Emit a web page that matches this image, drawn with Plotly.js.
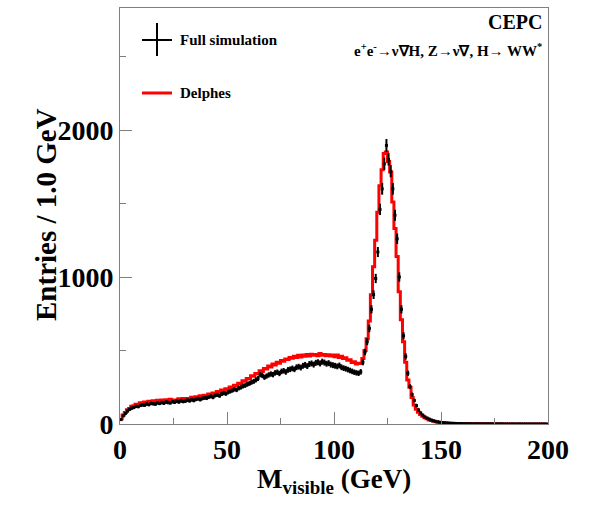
<!DOCTYPE html>
<html>
<head>
<meta charset="utf-8">
<script src="https://cdn.plot.ly/plotly-3.0.1.min.js"></script>
<style>html,body{margin:0;padding:0;background:#fff;}#plot{width:590px;height:505px;}</style>
</head>
<body>
<div id="plot"></div>
<script>
// Bin centres: 1 GeV bins from 0 to 200 GeV
var binLow = 0, binWidth = 1, nBins = 200;

// Delphes (red histogram), entries per 1 GeV bin
var delphes = [
  35, 62, 78, 97, 106, 120, 124, 135, 134, 144,
  143, 150, 147, 155, 146, 158, 150, 161, 154, 163,
  156, 165, 158, 168, 161, 164, 163, 171, 162, 173,
  169, 174, 172, 182, 173, 185, 181, 192, 183, 196,
  193, 204, 199, 211, 208, 221, 216, 231, 225, 239,
  236, 251, 248, 263, 261, 278, 275, 294, 291, 310,
  306, 328, 325, 344, 342, 362, 358, 378, 374, 394,
  388, 408, 402, 420, 414, 432, 427, 443, 439, 453,
  447, 461, 453, 467, 455, 469, 461, 473, 462, 475,
  467, 473, 465, 479, 468, 473, 464, 471, 463, 469,
  457, 469, 453, 461, 445, 451, 433, 437, 419, 423,
  409, 414, 412, 445, 500, 580, 700, 880, 1070, 1250,
  1440, 1620, 1730, 1840, 1850, 1785, 1715, 1510, 1330, 1140,
  900, 710, 560, 420, 300, 250, 180, 130, 100, 80,
  65, 52, 42, 35, 28, 23, 19, 15, 12, 10,
  8, 7, 6, 5, 4, 4, 3, 3, 2, 2,
  2, 2, 1, 1, 1, 1, 1, 1, 1, 1,
  1, 1, 1, 0, 1, 0, 0, 1, 0, 0,
  0, 0, 0, 0, 0, 0, 0, 0, 0, 0,
  0, 0, 0, 0, 0, 0, 0, 0, 0, 0
];

// Full simulation (black points), entries per 1 GeV bin
var fullSim = [
  30, 55, 72, 88, 100, 108, 112, 120, 118, 126,
  130, 128, 136, 132, 140, 138, 135, 144, 140, 146,
  142, 150, 146, 144, 152, 148, 155, 150, 158, 153,
  156, 162, 158, 165, 160, 168, 172, 166, 174, 178,
  176, 184, 188, 182, 194, 198, 192, 204, 210, 206,
  216, 222, 228, 236, 232, 244, 250, 258, 262, 270,
  276, 284, 290, 300, 310, 336, 330, 318, 326, 334,
  340, 336, 348, 352, 344, 358, 362, 354, 368, 372,
  378, 372, 386, 390, 384, 396, 402, 394, 408, 412,
  404, 416, 420, 412, 424, 418, 410, 414, 404, 400,
  396, 392, 398, 386, 380, 376, 370, 364, 358, 352,
  348, 345, 355, 420, 490, 560, 650, 780, 880, 990,
  1170, 1460, 1600, 1770, 1895, 1800, 1720, 1600, 1420, 1260,
  1000, 780, 600, 460, 345, 255, 200, 160, 125, 95,
  75, 60, 48, 40, 33, 27, 22, 18, 15, 12,
  10, 9, 7, 6, 5, 5, 4, 3, 3, 3,
  2, 2, 2, 2, 1, 1, 2, 1, 1, 1,
  1, 1, 1, 1, 0, 1, 1, 0, 1, 0,
  1, 0, 0, 1, 0, 0, 1, 0, 0, 0,
  0, 0, 0, 0, 0, 0, 0, 0, 0, 0
];

var xTickVals = [0, 50, 100, 150, 200];
var yTickVals = [0, 1000, 2000];
var legendLabels = ["Full simulation", "Delphes"];
var xTitle = "M<sub>visible</sub> (GeV)";
var yTitle = "Entries / 1.0 GeV";
var expLabel = "CEPC";
var procLabel = "e<sup>+</sup>e<sup>-</sup>→ν∇H, Z→ν∇, H→ WW<sup>*</sup>";

var centres = [];
for (var i = 0; i < nBins; i++) centres.push(binLow + (i + 0.5) * binWidth);

var serif = "Liberation Serif, Times New Roman, serif";
var axisGray = "#7f7f7f";

var traces = [
  {
    x: centres, y: delphes, type: "scatter", mode: "lines",
    line: {shape: "hvh", color: "#ff0000", width: 3},
    hoverinfo: "skip", showlegend: false
  },
  {
    x: centres, y: fullSim, type: "scatter", mode: "markers",
    marker: {symbol: "square", size: 3, color: "#000"},
    error_y: {type: "sqrt", color: "#000", thickness: 2, width: 0},
    error_x: {type: "constant", value: 0.5 * binWidth, color: "#000", thickness: 1.5, width: 0},
    hoverinfo: "skip", showlegend: false
  }
];

function px2x(px) { return (px - 120) / 428; }
function px2y(py) { return (424 - py) / 416; }

var layout = {
  width: 590, height: 505,
  margin: {l: 120, r: 42, t: 8, b: 81, pad: 0},
  paper_bgcolor: "#fff", plot_bgcolor: "#fff",
  showlegend: false,
  xaxis: {
    range: [0, 200], tickvals: xTickVals, ticks: "inside", ticklen: 12,
    tickcolor: axisGray, tickwidth: 1,
    minor: {dtick: 25, ticks: "inside", ticklen: 6, tickcolor: axisGray, tickwidth: 1},
    showline: true, mirror: true, linecolor: axisGray, linewidth: 1,
    showgrid: false, zeroline: false,
    tickfont: {family: serif, size: 28, color: "#000", weight: "bold"}
  },
  yaxis: {
    range: [0, 2830], tickvals: yTickVals, ticks: "inside", ticklen: 12,
    tickcolor: axisGray, tickwidth: 1,
    minor: {dtick: 500, ticks: "inside", ticklen: 6, tickcolor: axisGray, tickwidth: 1},
    showline: true, mirror: true, linecolor: axisGray, linewidth: 1,
    showgrid: false, zeroline: false,
    tickfont: {family: serif, size: 28, color: "#000", weight: "bold"}
  },
  shapes: [
    {type: "line", xref: "paper", yref: "paper", x0: px2x(142), x1: px2x(172), y0: px2y(40), y1: px2y(40), line: {color: "#000", width: 2}},
    {type: "line", xref: "paper", yref: "paper", x0: px2x(157), x1: px2x(157), y0: px2y(23), y1: px2y(56), line: {color: "#000", width: 2}},
    {type: "line", xref: "paper", yref: "paper", x0: px2x(142), x1: px2x(172), y0: px2y(93), y1: px2y(93), line: {color: "#ff0000", width: 3}}
  ],
  annotations: [
    {text: "<b>" + legendLabels[0] + "</b>", xref: "paper", yref: "paper", x: px2x(178), y: px2y(40), xanchor: "left", yanchor: "middle", showarrow: false, font: {family: serif, size: 15, color: "#000"}},
    {text: "<b>" + legendLabels[1] + "</b>", xref: "paper", yref: "paper", x: px2x(178), y: px2y(93), xanchor: "left", yanchor: "middle", showarrow: false, font: {family: serif, size: 15, color: "#000"}},
    {text: "<b>" + expLabel + "</b>", xref: "paper", yref: "paper", x: px2x(544), y: px2y(22), xanchor: "right", yanchor: "middle", showarrow: false, font: {family: serif, size: 20, color: "#000"}},
    {text: "<b>" + procLabel + "</b>", xref: "paper", yref: "paper", x: px2x(544), y: px2y(50), xanchor: "right", yanchor: "middle", showarrow: false, font: {family: serif, size: 15, color: "#000"}},
    {text: "<b>" + yTitle + "</b>", xref: "paper", yref: "paper", x: px2x(46), y: px2y(215), xanchor: "center", yanchor: "middle", textangle: -90, showarrow: false, font: {family: serif, size: 29, color: "#000"}},
    {text: "<b>" + xTitle + "</b>", xref: "paper", yref: "paper", x: px2x(334), y: px2y(481), xanchor: "center", yanchor: "middle", showarrow: false, font: {family: serif, size: 27, color: "#000"}}
  ]
};

Plotly.newPlot("plot", traces, layout, {staticPlot: true, displayModeBar: false});
</script>
</body>
</html>
